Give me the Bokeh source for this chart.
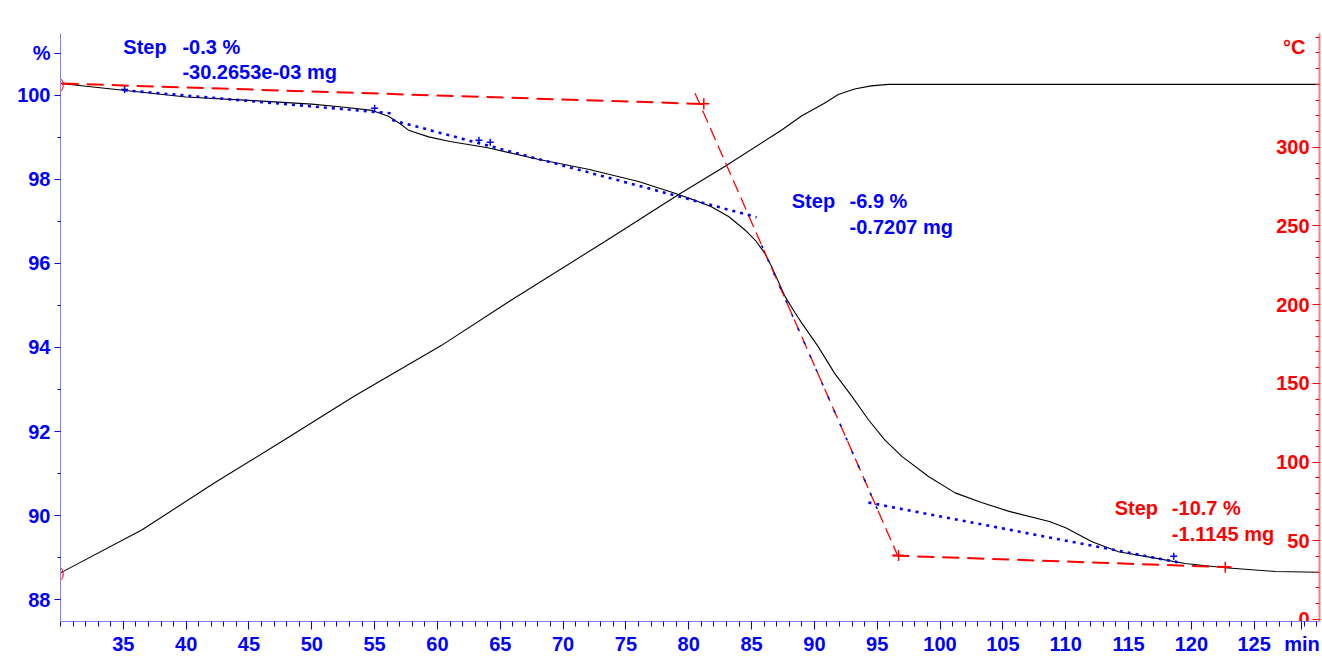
from bokeh.plotting import figure
from bokeh.models import Range1d, LinearAxis, FixedTicker, ColumnDataSource
from bokeh.core.properties import value
from bokeh.embed import file_html
from bokeh.resources import INLINE

FONT = "Liberation Sans"
FSIZE = "20px"
BLUE = "#0000ff"
RED = "#ff0000"

# ---- data ----
mass_time = [30, 35, 40, 45, 50, 52.4, 54.8, 56.1, 57.0, 57.7, 59.3, 61, 64, 68, 72, 76, 78.9,
             80.5, 81.8, 83.2, 84.5, 85.3, 86.05, 86.6, 87.67, 88.47, 89.0, 90.3, 91.6, 93.0,
             94.3, 95.6, 96.96, 99.08, 101.2, 103.3, 105.5, 108.7, 110.0, 112.1, 114.2, 116.9,
             119.5, 122.7, 126.7, 130.2]
mass_pct = [100.28, 100.12, 99.96, 99.88, 99.79, 99.72, 99.64, 99.50, 99.33, 99.17, 99.01, 98.9,
            98.75, 98.48, 98.24, 97.95, 97.67, 97.5, 97.35, 97.11, 96.79, 96.55, 96.24, 95.92,
            95.21, 94.82, 94.58, 94.02, 93.39, 92.83, 92.28, 91.8, 91.41, 90.93, 90.54, 90.31,
            90.1, 89.86, 89.71, 89.38, 89.14, 89.0, 88.86, 88.76, 88.67, 88.65]

temp_time = [30, 36.5, 42.3, 47.8, 53.4, 60.3, 65.7, 73.3, 79.2, 82.9, 87.4, 89.0, 90.8,
             91.9, 93.2, 94.5, 95.9, 100, 130.2]
temp_c = [29.6, 57, 87, 114, 142, 174, 202, 240, 270, 288, 311, 320, 328, 333.5, 337, 339,
          340, 340, 340]

# evaluation construction lines
red_long_x = [[30.1, 81.6], [96.2, 123.2]]
red_long_y = [[100.28, 99.79], [89.05, 88.77]]
red_steep_x = [80.5, 96.6]
red_steep_y = [100.05, 89.07]
blue_x = [[35.1, 56.4], [56.4, 85.4], [94.3, 119.1]]
blue_y = [[100.12, 99.57], [99.41, 97.10], [90.31, 88.88]]
blue_steep_x = [85.8, 95.0]
blue_steep_y = [96.43, 90.16]
red_mark_x = [81.2, 96.7, 122.7]
red_mark_y = [99.8, 89.05, 88.77]
blue_mark_x = [35.1, 55.0, 63.3, 64.2, 118.6]
blue_mark_y = [100.14, 99.69, 98.93, 98.88, 89.03]

step_labels = ["Step", "Step", "Step"]
step_pct = ["-0.3 %", "-6.9 %", "-10.7 %"]
step_mg = ["-30.2653e-03 mg", "-0.7207 mg", "-1.1145 mg"]
step_colors = [BLUE, BLUE, RED]
step_word_x = [35.0, 88.2, 113.9]
step_val_x = [39.7, 92.8, 118.45]
step_y1 = [101.16, 97.48, 90.19]
step_y2 = [100.55, 96.86, 89.57]

pct_major = [88, 90, 92, 94, 96, 98, 100, 101]
pct_minor = [89, 91, 93, 95, 97, 99]
time_major = [35, 40, 45, 50, 55, 60, 65, 70, 75, 80, 85, 90, 95, 100, 105, 110, 115, 120, 125, 128.8]
time_minor = list(range(30, 131))
temp_major = [0, 50, 100, 150, 200, 250, 300]
temp_minor = list(range(0, 371, 10))

# ---- figure ----
p = figure(width=1322, height=657, output_backend="svg", toolbar_location=None,
           x_range=Range1d(30, 130.2), y_range=Range1d(87.48, 101.47),
           min_border_left=60, min_border_right=3, min_border_top=33, min_border_bottom=35)
p.extra_y_ranges = {"temp": Range1d(-1.3, 372.3)}
p.outline_line_color = None
p.xgrid.visible = False
p.ygrid.visible = False
p.background_fill_color = "white"
p.border_fill_color = "white"

# left axis
ya = p.yaxis[0]
ya.ticker = FixedTicker(ticks=pct_major, minor_ticks=pct_minor)
ya.major_label_overrides = {101: "%"}
ya.axis_line_color = "#8080ff"
ya.major_tick_line_color = BLUE
ya.minor_tick_line_color = BLUE
ya.major_tick_out = 6
ya.major_tick_in = 0
ya.minor_tick_out = 3
ya.minor_tick_in = 0
ya.major_label_text_color = BLUE
ya.major_label_text_font = FONT
ya.major_label_text_font_style = "bold"
ya.major_label_text_font_size = FSIZE
ya.major_label_standoff = 4

# bottom axis
xa = p.xaxis[0]
xa.ticker = FixedTicker(ticks=time_major, minor_ticks=time_minor)
xa.major_label_overrides = {128.8: "min"}
xa.axis_line_color = "#8080ff"
xa.major_tick_line_color = BLUE
xa.minor_tick_line_color = BLUE
xa.major_tick_out = 8
xa.major_tick_in = 0
xa.minor_tick_out = 5
xa.minor_tick_in = 0
xa.major_label_text_color = BLUE
xa.major_label_text_font = FONT
xa.major_label_text_font_style = "bold"
xa.major_label_text_font_size = FSIZE
xa.major_label_standoff = 3

# right axis (ticks inside, labels drawn inside the frame)
ra = LinearAxis(y_range_name="temp", ticker=FixedTicker(ticks=temp_major, minor_ticks=temp_minor))
ra.axis_line_color = "#ff8080"
ra.axis_line_width = 2
ra.major_tick_line_color = RED
ra.minor_tick_line_color = RED
ra.major_tick_in = 7
ra.major_tick_out = 0
ra.minor_tick_in = 4
ra.minor_tick_out = 0
ra.major_label_text_alpha = 0
ra.major_label_text_font_size = "1px"
ra.major_label_standoff = 0
p.add_layout(ra, "right")

x_end = p.x_range.end
p.text(x=[x_end] * len(temp_major), y=temp_major, text=[str(v) for v in temp_major],
       y_range_name="temp", x_offset=-10, text_align="right", text_baseline="middle",
       text_color=RED, text_font=value(FONT), text_font_style="bold", text_font_size=FSIZE)
p.text(x=[x_end], y=[364], text=["°C"], y_range_name="temp", x_offset=-14,
       text_align="right", text_baseline="middle",
       text_color=RED, text_font=value(FONT), text_font_style="bold", text_font_size=FSIZE)

# curves
p.line(temp_time, temp_c, y_range_name="temp", line_color="black", line_width=1.1)
p.line(mass_time, mass_pct, line_color="black", line_width=1.1)

# construction lines
p.multi_line(red_long_x, red_long_y, line_color=RED, line_width=2, line_dash="17 8")
p.line(red_steep_x, red_steep_y, line_color=RED, line_width=1.3, line_dash="13 6")
p.multi_line(blue_x, blue_y, line_color=BLUE, line_width=2.6, line_dash="3 5")
p.line(blue_steep_x, blue_steep_y, line_color=BLUE, line_width=1.6, line_dash="3 12")
p.scatter(red_mark_x, red_mark_y, marker="cross", size=11, line_color=RED, line_width=1.5)
p.scatter(blue_mark_x, blue_mark_y, marker="cross", size=7, line_color=BLUE, line_width=1.5)
p.text(x=[30.0], y=[100.28], text=["()"], text_color=RED, text_font=value(FONT),
       text_font_size="12px", text_align="center", text_baseline="middle")
p.text(x=[30.0], y=[29.6], text=["()"], y_range_name="temp", text_color=RED,
       text_font=value(FONT), text_font_size="12px", text_align="center", text_baseline="middle")

# step annotations
src = ColumnDataSource(dict(wx=step_word_x, vx=step_val_x, y1=step_y1, y2=step_y2,
                            w=step_labels, v1=step_pct, v2=step_mg, c=step_colors))
for xf, yf, tf in [("wx", "y1", "w"), ("vx", "y1", "v1"), ("vx", "y2", "v2")]:
    p.text(x=xf, y=yf, text=tf, source=src, text_color="c", text_font=value(FONT),
           text_font_style="bold", text_font_size=FSIZE, text_align="left",
           text_baseline="middle")

open("out.html", "w").write(file_html(p, INLINE))
